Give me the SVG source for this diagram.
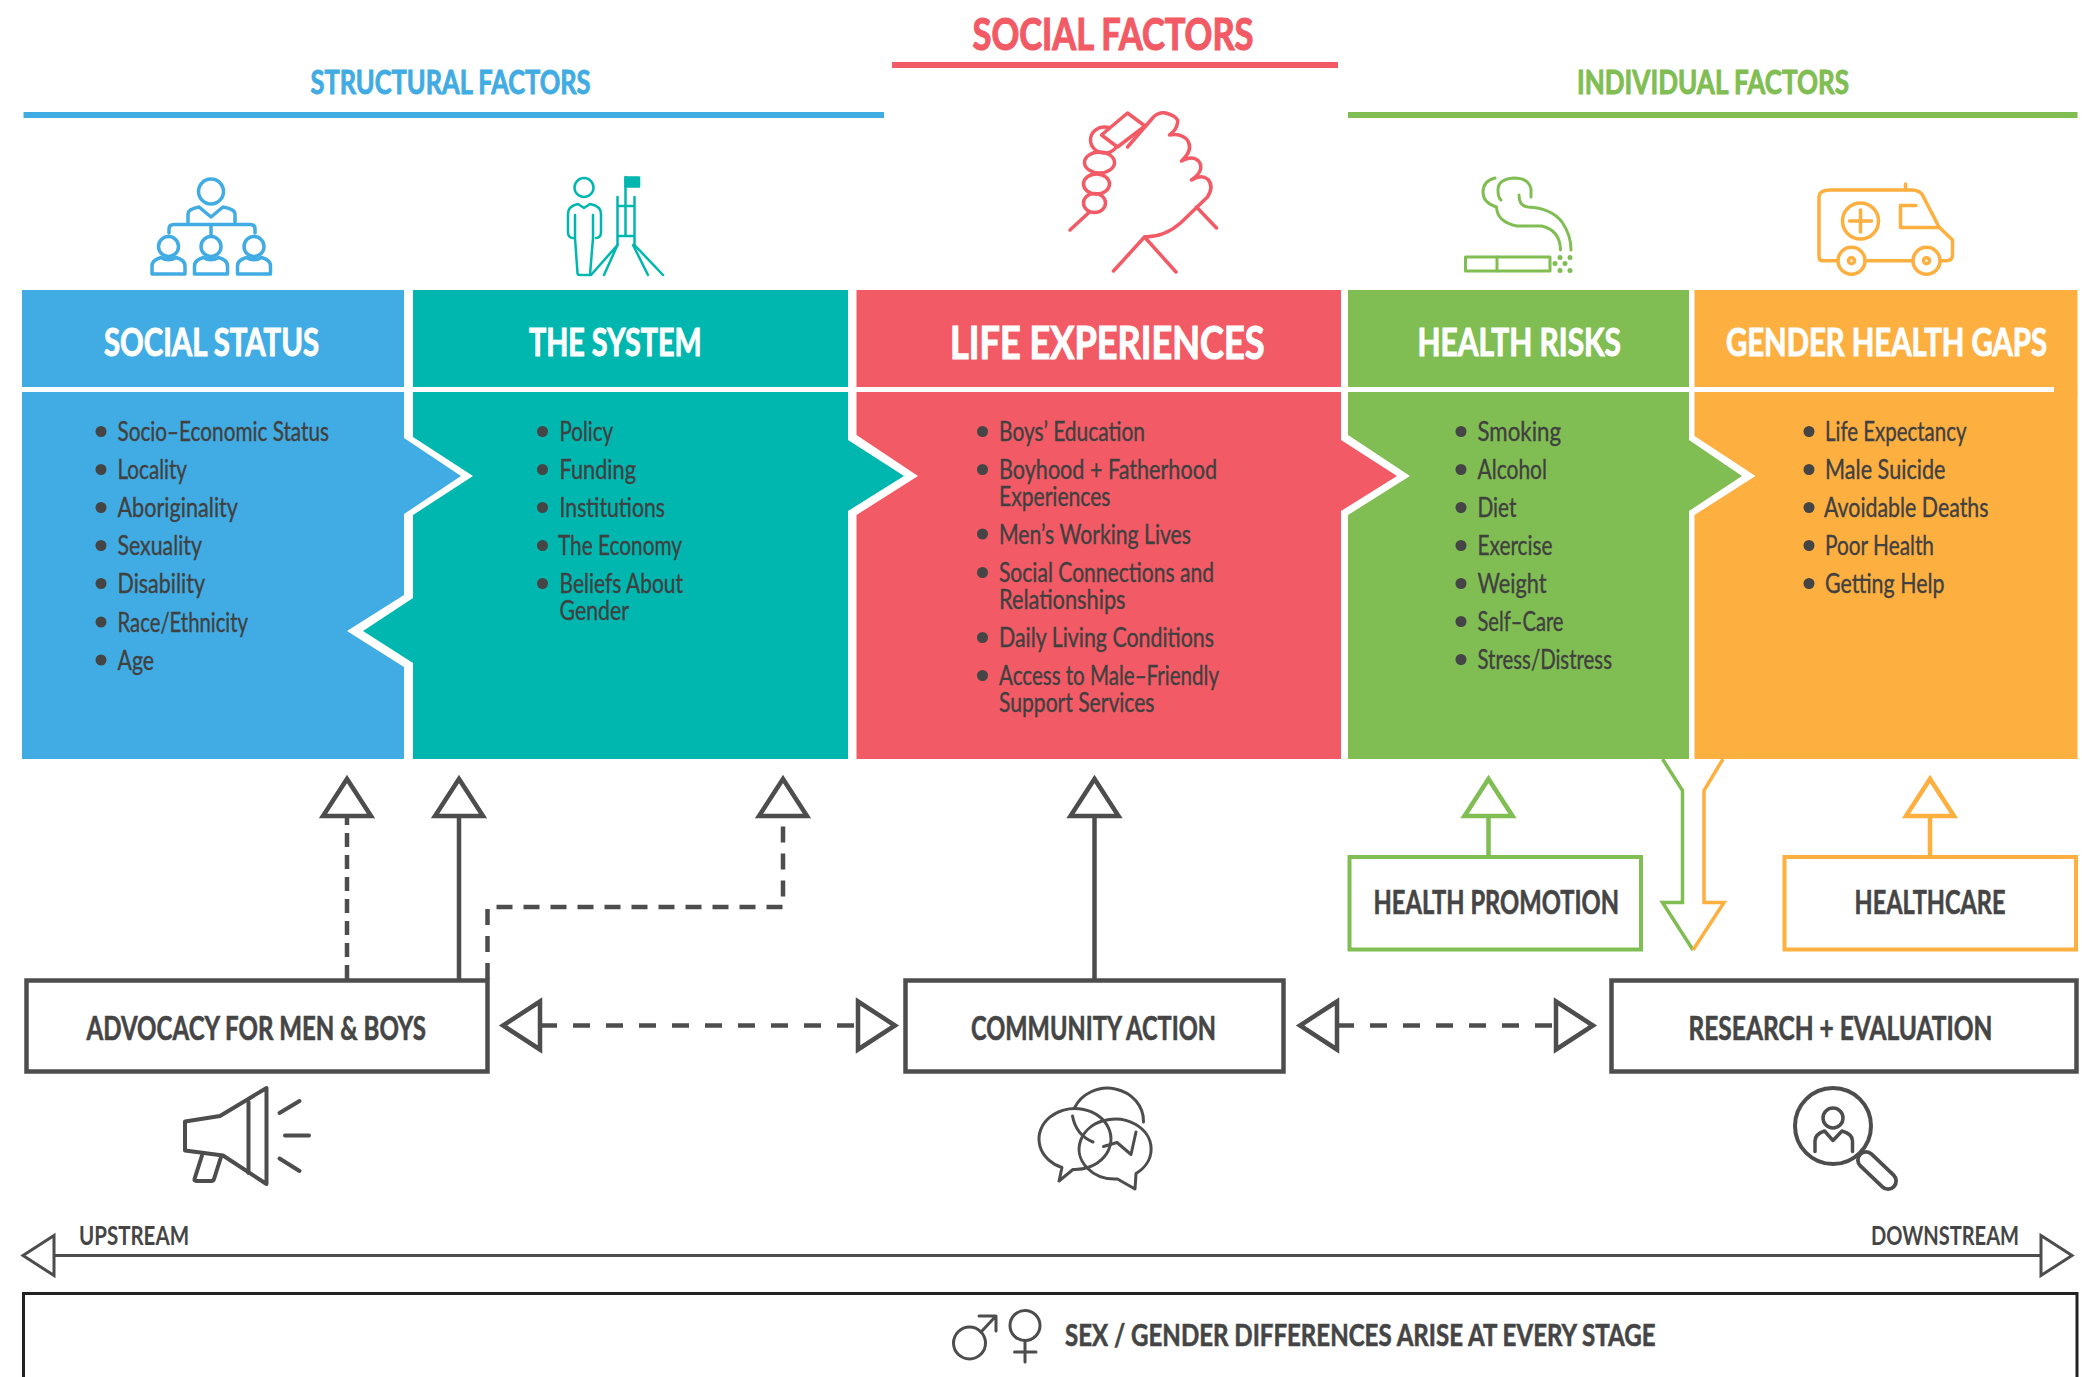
<svg xmlns="http://www.w3.org/2000/svg" width="2082" height="1377" viewBox="0 0 2082 1377">
<style>
text{font-family:"Lato","Open Sans","Liberation Sans",sans-serif;fill:#454545}
.t1{font-size:32px;font-weight:700;stroke-width:.9}
.t0{font-size:44px;font-weight:700;stroke-width:1.2}
.h{font-size:38px;font-weight:700;fill:#fff;stroke:#fff;stroke-width:1}
.hb{font-size:46px;font-weight:700;fill:#fff;stroke:#fff;stroke-width:1.2}
.li{font-size:27px;font-weight:400;fill:#404040;stroke:#404040;stroke-width:.35}
.bx{font-size:32px;font-weight:700;stroke:#454545;stroke-width:.6}
.sm{font-size:26px;font-weight:700}
.b{fill:#454545}
.ic{fill:none;stroke-linecap:round;stroke-linejoin:round}
.box{fill:#fff;stroke-width:4.5;stroke:#4d4d4d}
.c{fill:none;stroke-width:4.5;stroke:#4d4d4d}
.ds{stroke-dasharray:14 8}
.dh{stroke-dasharray:17 16}
</style>
<defs>
<marker id="ag" markerUnits="userSpaceOnUse" viewBox="-6 -34 56 68" markerWidth="56" markerHeight="68" refX="0" refY="0" orient="auto-start-reverse"><polygon points="0,-24 37,0 0,24" fill="#fff" stroke="#4d4d4d" stroke-width="4.5"/></marker>
<marker id="ae" markerUnits="userSpaceOnUse" viewBox="-6 -34 56 68" markerWidth="56" markerHeight="68" refX="0" refY="0" orient="auto-start-reverse"><polygon points="0,-24 37,0 0,24" fill="#fff" stroke="#80BD52" stroke-width="4.5"/></marker>
<marker id="ao" markerUnits="userSpaceOnUse" viewBox="-6 -34 56 68" markerWidth="56" markerHeight="68" refX="0" refY="0" orient="auto-start-reverse"><polygon points="0,-24 37,0 0,24" fill="#fff" stroke="#FDAF40" stroke-width="4.5"/></marker>
<marker id="at" markerUnits="userSpaceOnUse" viewBox="-4 -26 44 52" markerWidth="44" markerHeight="52" refX="0" refY="0" orient="auto-start-reverse"><polygon points="0,-20 31,0 0,20" fill="#fff" stroke="#4d4d4d" stroke-width="3"/></marker>
</defs>
<rect width="2082" height="1377" fill="#fff"/>

<g id="title-structural">
<rect x="23.5" y="112" width="860.5" height="6" fill="#41ACE3"/>
<text class="t1" x="310.5" y="94" textLength="280" lengthAdjust="spacingAndGlyphs" style="fill:#41ACE3;stroke:#41ACE3">STRUCTURAL FACTORS</text>
</g>
<g id="title-social">
<rect x="892" y="62" width="446" height="6" fill="#F25A65"/>
<text class="t0" x="972.5" y="49.5" textLength="281" lengthAdjust="spacingAndGlyphs" style="fill:#F25A65;stroke:#F25A65">SOCIAL FACTORS</text>
</g>
<g id="title-individual">
<rect x="1348" y="112" width="729.5" height="6" fill="#80BD52"/>
<text class="t1" x="1577" y="94" textLength="272" lengthAdjust="spacingAndGlyphs" style="fill:#80BD52;stroke:#80BD52">INDIVIDUAL FACTORS</text>
</g>

<g id="social-status">
<rect x="22" y="290" width="382" height="97" fill="#41ACE3"/>
<path d="M22 392H404V438L461 476L404 514V595L347 631L404 667V759H22Z" fill="#41ACE3"/>
<text class="h" x="104" y="356" textLength="215" lengthAdjust="spacingAndGlyphs">SOCIAL STATUS</text>
<g class="b"><circle cx="101" cy="431.5" r="5.5"/><circle cx="101" cy="469.5" r="5.5"/><circle cx="101" cy="507.5" r="5.5"/><circle cx="101" cy="545.5" r="5.5"/><circle cx="101" cy="583.5" r="5.5"/><circle cx="101" cy="622" r="5.5"/><circle cx="101" cy="660" r="5.5"/></g>
<text class="li" x="117.5" y="441" textLength="211.5" lengthAdjust="spacingAndGlyphs">Socio–Economic Status</text>
<text class="li" x="117.5" y="479" textLength="69.5" lengthAdjust="spacingAndGlyphs">Locality</text>
<text class="li" x="117.5" y="517" textLength="120.5" lengthAdjust="spacingAndGlyphs">Aboriginality</text>
<text class="li" x="117.5" y="555" textLength="84.5" lengthAdjust="spacingAndGlyphs">Sexuality</text>
<text class="li" x="117.5" y="593" textLength="87.5" lengthAdjust="spacingAndGlyphs">Disability</text>
<text class="li" x="117.5" y="632" textLength="130.5" lengthAdjust="spacingAndGlyphs">Race/Ethnicity</text>
<text class="li" x="117.5" y="670" textLength="36.5" lengthAdjust="spacingAndGlyphs">Age</text>
<g class="ic" stroke="#41ACE3" stroke-width="3.5">
<circle cx="211" cy="191.5" r="12.5"/>
<path d="M188 222V214Q188 209 199 207L211 217L223 207Q235 209 235 214V222"/>
<path d="M169 233V229Q169 224.5 174 224.5H250Q255 224.5 255 229V233M211 224.5V235"/>
<ellipse cx="168.5" cy="246.5" rx="10" ry="10"/><ellipse cx="211" cy="246.5" rx="10" ry="10"/><ellipse cx="254" cy="246.5" rx="10" ry="10"/>
<path d="M152 274V266Q152 260 161 257.5Q168.5 262 176 257.5Q185 260 185 266V274Z"/>
<path d="M194.5 274V266Q194.5 260 203.5 257.5Q211 262 218.5 257.5Q227.5 260 227.5 266V274Z"/>
<path d="M237.5 274V266Q237.5 260 246.5 257.5Q254 262 261.5 257.5Q270.5 260 270.5 266V274Z"/>
</g>
</g>

<g id="the-system">
<rect x="413" y="290" width="435" height="97" fill="#00B7B0"/>
<path d="M413 392H848V440L904 476L848 511V759H413V663L363 631L413 598V515L473 476L413 437Z" fill="#00B7B0"/>
<text class="h" x="529" y="356" textLength="172.5" lengthAdjust="spacingAndGlyphs">THE SYSTEM</text>
<g class="b"><circle cx="542.5" cy="431.5" r="5.5"/><circle cx="542.5" cy="469.5" r="5.5"/><circle cx="542.5" cy="507.5" r="5.5"/><circle cx="542.5" cy="545.5" r="5.5"/><circle cx="542.5" cy="583.5" r="5.5"/></g>
<text class="li" x="559.5" y="441" textLength="53.5" lengthAdjust="spacingAndGlyphs">Policy</text>
<text class="li" x="559.5" y="479" textLength="76.5" lengthAdjust="spacingAndGlyphs">Funding</text>
<text class="li" x="559.5" y="517" textLength="105.5" lengthAdjust="spacingAndGlyphs">Institutions</text>
<text class="li" x="558" y="555" textLength="124" lengthAdjust="spacingAndGlyphs">The Economy</text>
<text class="li" x="559.5" y="593" textLength="123.5" lengthAdjust="spacingAndGlyphs">Beliefs About</text>
<text class="li" x="559.5" y="619.5" textLength="69.5" lengthAdjust="spacingAndGlyphs">Gender</text>
<g class="ic" stroke="#00B7B0" stroke-width="2.5">
<circle cx="584" cy="187.5" r="9.5"/>
<path d="M573 238Q568 238 568 232V214Q568 206 578 204L584 208L590 204Q601 206 601 214V232Q601 238 596 238"/>
<path d="M575 215V238L577.5 273Q577.5 275 580 275H590L593 238V215"/>
<rect x="625.5" y="177.5" width="13.5" height="9" fill="#00B7B0"/>
<path d="M625.5 177V236M617.5 197V245M634.5 197V245M617.5 206H634.5M617.5 236H634.5"/>
<path d="M617.5 245L591 275M617.5 245L604 275M634.5 245L663 275M633 245L648 275"/>
</g>
</g>

<g id="life-experiences">
<rect x="856.5" y="290" width="484.5" height="97" fill="#F25A65"/>
<path d="M856.5 392H1341V440L1397 476L1341 511V759H856.5V515L918 476L856.5 435Z" fill="#F25A65"/>
<text class="hb" x="950" y="359" textLength="314.5" lengthAdjust="spacingAndGlyphs">LIFE EXPERIENCES</text>
<g class="b"><circle cx="982.5" cy="431.5" r="5.5"/><circle cx="982.5" cy="469.5" r="5.5"/><circle cx="982.5" cy="534" r="5.5"/><circle cx="982.5" cy="572.5" r="5.5"/><circle cx="982.5" cy="637.5" r="5.5"/><circle cx="982.5" cy="675.5" r="5.5"/></g>
<text class="li" x="999" y="441" textLength="146" lengthAdjust="spacingAndGlyphs">Boys’ Education</text>
<text class="li" x="999" y="479" textLength="218" lengthAdjust="spacingAndGlyphs">Boyhood + Fatherhood</text>
<text class="li" x="999" y="505.5" textLength="111.5" lengthAdjust="spacingAndGlyphs">Experiences</text>
<text class="li" x="999" y="543.5" textLength="192" lengthAdjust="spacingAndGlyphs">Men’s Working Lives</text>
<text class="li" x="999" y="581.5" textLength="215" lengthAdjust="spacingAndGlyphs">Social Connections and</text>
<text class="li" x="999" y="609" textLength="126.5" lengthAdjust="spacingAndGlyphs">Relationships</text>
<text class="li" x="999" y="646.5" textLength="215" lengthAdjust="spacingAndGlyphs">Daily Living Conditions</text>
<text class="li" x="999" y="685" textLength="220" lengthAdjust="spacingAndGlyphs">Access to Male–Friendly</text>
<text class="li" x="999" y="711.5" textLength="155.5" lengthAdjust="spacingAndGlyphs">Support Services</text>
<g class="ic" stroke="#F25A65" stroke-width="3.5" transform="translate(-.5 0)">
<ellipse cx="1095" cy="203" rx="11" ry="9.5"/>
<ellipse cx="1097" cy="184" rx="13" ry="10"/>
<ellipse cx="1100" cy="162.5" rx="15" ry="10.5"/>
<ellipse cx="1105" cy="140" rx="14" ry="13"/>
<polygon points="1102,135 1128,113 1145.5,126 1118,147" fill="#fff"/>
<path d="M1128 147L1154 117Q1159 112 1166 113Q1180 117 1178 123Q1177 130 1170 135Q1180 133 1187 139Q1195 149 1182 161Q1193 155 1199 161Q1206 170 1192 180Q1202 174 1208 179Q1215 186 1208 197L1181 223Q1165 237 1145 237"/>
<path d="M1145 237L1114 271M1145 237L1176.5 272M1197 207L1217 228M1090 212L1070.5 230"/>
</g>
</g>

<g id="health-risks">
<rect x="1348" y="290" width="341" height="97" fill="#80BD52"/>
<path d="M1348 392H1689V440L1742 476L1689 511V759H1348V515L1410 476L1348 435Z" fill="#80BD52"/>
<text class="h" x="1417.5" y="356" textLength="203.5" lengthAdjust="spacingAndGlyphs">HEALTH RISKS</text>
<g class="b"><circle cx="1461" cy="431.5" r="5.5"/><circle cx="1461" cy="469.5" r="5.5"/><circle cx="1461" cy="507.5" r="5.5"/><circle cx="1461" cy="545.5" r="5.5"/><circle cx="1461" cy="583.5" r="5.5"/><circle cx="1461" cy="621.5" r="5.5"/><circle cx="1461" cy="659.5" r="5.5"/></g>
<text class="li" x="1477.5" y="441" textLength="83.5" lengthAdjust="spacingAndGlyphs">Smoking</text>
<text class="li" x="1477.5" y="479" textLength="69.5" lengthAdjust="spacingAndGlyphs">Alcohol</text>
<text class="li" x="1477.5" y="517" textLength="39" lengthAdjust="spacingAndGlyphs">Diet</text>
<text class="li" x="1477.5" y="555" textLength="75" lengthAdjust="spacingAndGlyphs">Exercise</text>
<text class="li" x="1477.5" y="593" textLength="69" lengthAdjust="spacingAndGlyphs">Weight</text>
<text class="li" x="1477.5" y="631" textLength="86" lengthAdjust="spacingAndGlyphs">Self–Care</text>
<text class="li" x="1477.5" y="669" textLength="134.5" lengthAdjust="spacingAndGlyphs">Stress/Distress</text>
<g transform="translate(-2 0)">
<g class="ic" stroke="#80BD52" stroke-width="3">
<path d="M1497 178Q1485 181 1485 192Q1485 203 1498.5 207Q1499 222 1519 226H1543.5Q1562 230 1562.5 250"/>
<path d="M1533 197V189Q1531 178 1516 178Q1500 179 1500 190Q1500 198 1503 200"/>
<path d="M1521 195Q1521 206 1530 207Q1553 208 1564 222Q1573 235 1573 250"/>
<rect x="1467.5" y="257" width="84.5" height="14"/><path d="M1499 257V271"/>
</g>
<g fill="#80BD52"><circle cx="1562" cy="257.5" r="2.5"/><circle cx="1572" cy="257.5" r="2.5"/><circle cx="1557" cy="263.5" r="2.5"/><circle cx="1567" cy="263.5" r="2.5"/><circle cx="1562" cy="270.5" r="2.5"/><circle cx="1572" cy="270.5" r="2.5"/></g>
</g>
</g>

<g id="gender-health-gaps">
<rect x="1694.5" y="290" width="383" height="97" fill="#FDAF40"/>
<path d="M2054 386H2077.5V393H2054Z" fill="#FDAF40"/>
<path d="M1694.5 392H2077.5V759H1694.5V515L1755.5 476L1694.5 436Z" fill="#FDAF40"/>
<text class="h" x="1726" y="356" textLength="321" lengthAdjust="spacingAndGlyphs">GENDER HEALTH GAPS</text>
<g class="b"><circle cx="1809" cy="431.5" r="5.5"/><circle cx="1809" cy="469.5" r="5.5"/><circle cx="1809" cy="507.5" r="5.5"/><circle cx="1809" cy="545.5" r="5.5"/><circle cx="1809" cy="583.5" r="5.5"/></g>
<text class="li" x="1825" y="441" textLength="141.5" lengthAdjust="spacingAndGlyphs">Life Expectancy</text>
<text class="li" x="1825" y="479" textLength="120.5" lengthAdjust="spacingAndGlyphs">Male Suicide</text>
<text class="li" x="1824" y="517" textLength="164.5" lengthAdjust="spacingAndGlyphs">Avoidable Deaths</text>
<text class="li" x="1825" y="555" textLength="109" lengthAdjust="spacingAndGlyphs">Poor Health</text>
<text class="li" x="1825" y="593" textLength="119.5" lengthAdjust="spacingAndGlyphs">Getting Help</text>
<g class="ic" stroke="#FDAF40" stroke-width="3.5" transform="translate(-3 0)">
<path d="M1840 260.7H1825Q1822 260.7 1822 256V197Q1822 190 1834 190H1914Q1924 190 1926.5 197L1942 227L1955.5 240V255Q1955.5 260.7 1949 260.7H1943.5M1915 260.7H1869"/>
<circle cx="1854.5" cy="260.7" r="13.5"/><circle cx="1929.5" cy="260.7" r="13.5"/>
<circle cx="1854.5" cy="260.7" r="3"/><circle cx="1929.5" cy="260.7" r="3"/>
<circle cx="1863.5" cy="221" r="18"/><path d="M1852.5 221H1874.5M1863.5 210V232"/>
<path d="M1919 205.5H1903.5V227.5H1942M1908.5 184V190"/>
</g>
</g>

<g id="connectors">
<path class="c ds" d="M347 979V816" marker-end="url(#ag)"/>
<path class="c" d="M459 979V816" marker-end="url(#ag)"/>
<path class="c" style="stroke-dasharray:16 11" d="M487.5 979V907H783V816" marker-end="url(#ag)"/>
<path class="c" d="M1094.5 979V816" marker-end="url(#ag)"/>
<path class="c dh" d="M540 1025.5H858" marker-start="url(#ag)" marker-end="url(#ag)"/>
<path class="c dh" d="M1337 1025.5H1556" marker-start="url(#ag)" marker-end="url(#ag)"/>
<path class="c" style="stroke:#80BD52" d="M1488.5 857V816" marker-end="url(#ae)"/>
<path class="c" style="stroke:#FDAF40" d="M1930 857V816" marker-end="url(#ao)"/>
<path class="c" style="stroke:#80BD52;stroke-width:3.5" d="M1662.5 759L1682.5 790.5V902.5H1662.5L1693 950"/>
<path class="c" style="stroke:#FDAF40;stroke-width:3.5" d="M1723 759L1704 790.5V902.5H1724L1693 950"/>
<path class="c" style="stroke-width:3" d="M54 1255.5H2041" marker-start="url(#at)" marker-end="url(#at)"/>
</g>

<g id="health-promotion">
<rect x="1349.5" y="857" width="291.5" height="92.5" fill="#fff" stroke="#80BD52" stroke-width="4"/>
<text class="bx" x="1373.5" y="914" textLength="245.5" lengthAdjust="spacingAndGlyphs">HEALTH PROMOTION</text>
</g>
<g id="healthcare">
<rect x="1784.5" y="857" width="291.5" height="92.5" fill="#fff" stroke="#FDAF40" stroke-width="4"/>
<text class="bx" x="1854.5" y="914" textLength="151" lengthAdjust="spacingAndGlyphs">HEALTHCARE</text>
</g>

<g id="advocacy">
<rect class="box" x="26.5" y="980.5" width="461" height="91"/>
<text class="bx" x="86.5" y="1039.5" textLength="339.5" lengthAdjust="spacingAndGlyphs">ADVOCACY FOR MEN &amp; BOYS</text>
<g class="ic" stroke="#4d4d4d" stroke-width="4">
<path d="M185 1121.5L220 1116L266.5 1088V1184L223 1155.5L185 1150.5Z"/>
<path d="M248.5 1102V1173"/>
<path d="M202 1155.5L194.5 1179Q194 1181 197 1181H211Q213.5 1181 214 1179L221 1157"/>
<path d="M279.5 1113L299.5 1101M285 1135.5H309M279.5 1158.5L299.5 1171"/>
</g>
</g>
<g id="community-action">
<rect class="box" x="905.5" y="980.5" width="378" height="91"/>
<text class="bx" x="971" y="1039.5" textLength="245" lengthAdjust="spacingAndGlyphs">COMMUNITY ACTION</text>
<g class="ic" stroke="#4d4d4d" stroke-width="3">
<path d="M1062 1167.5A36 30.5 0 1 1 1073 1169.5L1059 1181Z"/>
<path d="M1117.5 1179A36 30 0 1 1 1136 1173.5L1135 1189Z"/>
<path d="M1074.5 1108A36 33 0 0 1 1143.5 1122"/>
<path d="M1072.5 1116Q1076 1135 1093 1142M1103.5 1146.5L1117 1142.5L1131 1154.5L1136 1132"/>
</g>
</g>
<g id="research-evaluation">
<rect class="box" x="1611.5" y="980.5" width="465" height="91"/>
<text class="bx" x="1688.5" y="1039.5" textLength="304" lengthAdjust="spacingAndGlyphs">RESEARCH + EVALUATION</text>
<g class="ic" stroke="#4d4d4d" stroke-width="4" transform="translate(-3 0)">
<circle cx="1836" cy="1126" r="38"/>
<circle cx="1836" cy="1118" r="10" stroke-width="3.5"/>
<path d="M1818 1151.5V1141Q1818 1134 1827.5 1131L1836 1140.5L1845 1131Q1855.5 1134 1855.5 1141V1151.5" stroke-width="3.5"/>
<path d="M1869 1160L1891 1181" stroke-width="20"/>
<path d="M1869 1160L1891 1181" stroke="#fff" stroke-width="12.5"/>
</g>
</g>

<g id="upstream-downstream">
<text class="sm" x="79" y="1245" textLength="110" lengthAdjust="spacingAndGlyphs">UPSTREAM</text>
<text class="sm" x="1871" y="1245" textLength="148" lengthAdjust="spacingAndGlyphs">DOWNSTREAM</text>
</g>

<g id="sex-gender">
<path d="M23.5 1377V1293.5H2077V1377" fill="none" stroke="#222" stroke-width="3"/>
<text class="bx" style="font-size:30px" x="1065" y="1346" textLength="590.5" lengthAdjust="spacingAndGlyphs">SEX / GENDER DIFFERENCES ARISE AT EVERY STAGE</text>
<g class="ic" stroke="#4d4d4d" stroke-width="3">
<circle cx="969.5" cy="1343" r="16"/>
<path d="M981 1332L996 1316M979 1316H996V1331"/>
<circle cx="1025" cy="1325.5" r="15"/>
<path d="M1025 1341V1362M1014.5 1352H1036"/>
</g>
</g>
</svg>
